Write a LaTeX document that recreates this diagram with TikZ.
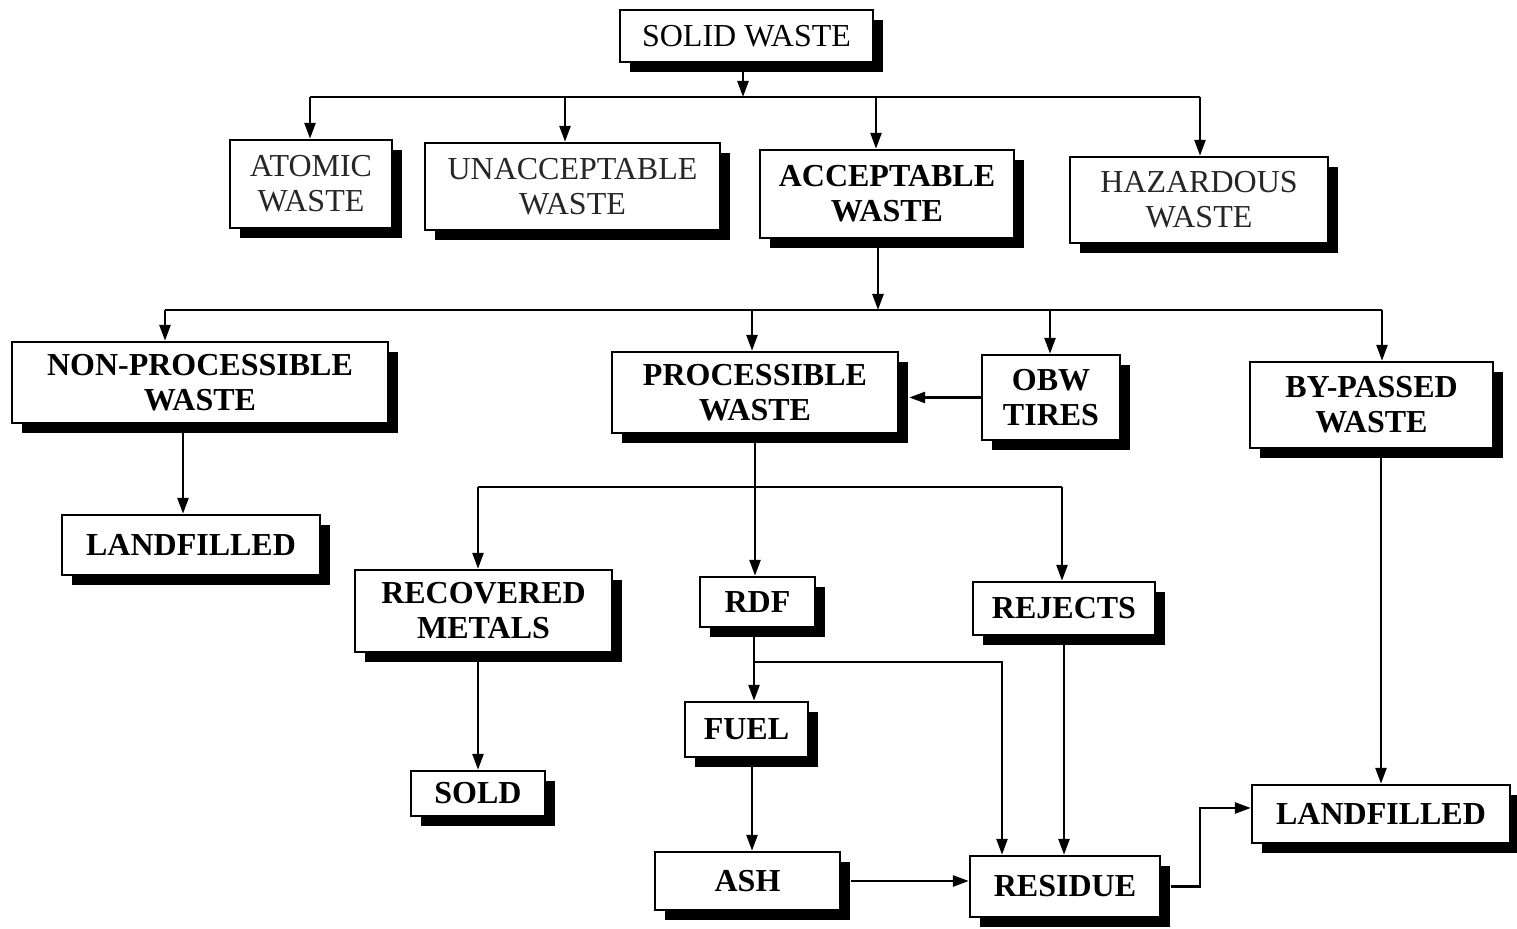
\documentclass[tikz,border=0pt]{standalone}
\usepackage{fontspec}
\setmainfont{Liberation Serif}
\usetikzlibrary{arrows.meta,shadows}
\begin{document}
\begin{tikzpicture}[x=0.5pt,y=-0.5pt,
 box/.style={draw=black, line width=1.2pt, fill=white, inner sep=0pt, align=center,
   font=\fontsize{16}{17.5}\selectfont\bfseries,
   drop shadow={shadow xshift=5pt, shadow yshift=-5pt, fill=black, opacity=1}},
 plainbox/.style={box, font=\fontsize{16}{17.5}\selectfont},
 lightbox/.style={box, font=\fontsize{16}{17.5}\selectfont, text=black!85},
 line/.style={line width=1.3pt},
 arr/.style={line, -{Triangle[length=8pt,width=5.5pt]}}]
\path[use as bounding box] (0,0) rectangle (1517,929);

% nodes
\node[plainbox, minimum width=126.5pt, minimum height=26pt] (solid) at (746.5,36) {SOLID WASTE};
\node[lightbox, minimum width=81pt, minimum height=44pt] (atomic) at (311,184) {ATOMIC\\WASTE};
\node[lightbox, minimum width=147.5pt, minimum height=43.5pt] (unacc) at (572.5,186.5) {UNACCEPTABLE\\WASTE};
\node[box, minimum width=127pt, minimum height=44pt] (acc) at (887,194) {ACCEPTABLE\\WASTE};
\node[lightbox, minimum width=129pt, minimum height=43pt] (haz) at (1199,200) {HAZARDOUS\\WASTE};
\node[box, minimum width=188pt, minimum height=40.5pt] (nonproc) at (200,382.5) {NON-PROCESSIBLE\\WASTE};
\node[box, minimum width=143pt, minimum height=40.5pt] (proc) at (755,392.5) {PROCESSIBLE\\WASTE};
\node[box, minimum width=69pt, minimum height=42.5pt] (obw) at (1051,397.5) {OBW\\TIRES};
\node[box, minimum width=121.5pt, minimum height=43pt] (bypass) at (1371.5,405) {BY-PASSED\\WASTE};
\node[box, minimum width=129pt, minimum height=30pt] (land1) at (191,545) {LANDFILLED};
\node[box, minimum width=128.5pt, minimum height=41pt] (recov) at (483.5,611) {RECOVERED\\METALS};
\node[box, minimum width=57.5pt, minimum height=25pt] (rdf) at (757.5,602) {RDF};
\node[box, minimum width=91pt, minimum height=26.5pt] (rejects) at (1064,608.5) {REJECTS};
\node[box, minimum width=61.5pt, minimum height=27.5pt] (fuel) at (746.5,729.5) {FUEL};
\node[box, minimum width=67pt, minimum height=22.5pt] (sold) at (478,793.5) {SOLD};
\node[box, minimum width=92.5pt, minimum height=29pt] (ash) at (747.5,881) {ASH};
\node[box, minimum width=95pt, minimum height=30.5pt] (residue) at (1065,886.5) {RESIDUE};
\node[box, minimum width=129pt, minimum height=29pt] (land2) at (1381,814) {LANDFILLED};

% first level bus
\coordinate (j1) at (743,97);
\coordinate (b1L) at (310,97);
\coordinate (b1R) at (1200,97);
\coordinate (j2) at (565,97);
\coordinate (j3) at (876,97);
\draw[arr] (solid.south -| j1) -- (j1);
\draw[line] (b1L) -- (b1R);
\draw[arr] (b1L) -- (b1L |- atomic.north);
\draw[arr] (j2) -- (j2 |- unacc.north);
\draw[arr] (j3) -- (j3 |- acc.north);
\draw[arr] (b1R) -- (b1R |- haz.north);

% second level bus
\coordinate (j4) at (878,310);
\coordinate (b2L) at (165,310);
\coordinate (b2R) at (1382,310);
\coordinate (j5) at (752,310);
\coordinate (j6) at (1050,310);
\draw[arr] (acc.south -| j4) -- (j4);
\draw[line] (b2L) -- (b2R);
\draw[arr] (b2L) -- (b2L |- nonproc.north);
\draw[arr] (j5) -- (j5 |- proc.north);
\draw[arr] (j6) -- (j6 |- obw.north);
\draw[arr] (b2R) -- (b2R |- bypass.north);
\draw[arr] (obw.west) -- ([xshift=5pt]proc.east |- obw.west);

% non-processible
\draw[arr] ([xshift=-4pt]land1.north |- nonproc.south) -- ([xshift=-4pt]land1.north);

% processible
\coordinate (b3L) at (478,487);
\coordinate (b3R) at (1062,487);
\draw[arr] (proc.south) -- (proc.south |- rdf.north);
\draw[line] (b3L) -- (b3R);
\draw[arr] (b3L) -- (b3L |- recov.north);
\draw[arr] (b3R) -- (b3R |- rejects.north);
\draw[arr] (sold.north |- recov.south) -- (sold.north);

% rdf
\coordinate (j7) at (754,662);
\coordinate (c1) at (1002,662);
\draw[arr] (rdf.south -| j7) -- (j7 |- fuel.north);
\draw[arr] (j7) -- (c1) -- (c1 |- residue.north);
\draw[arr] (rejects.south) -- (rejects.south |- residue.north);
\draw[arr] ([xshift=2.75pt]fuel.south) -- ([xshift=2.75pt]fuel.south |- ash.north);
\draw[arr] ([xshift=5pt]ash.east) -- (residue.west |- ash.east);

% landfilled right
\coordinate (c2) at (1200,808);
\draw[arr] ([xshift=5pt]residue.east) -| (c2) -- (land2.west |- c2);
\draw[arr] (land2.north |- bypass.south) -- (land2.north);
\end{tikzpicture}
\end{document}
